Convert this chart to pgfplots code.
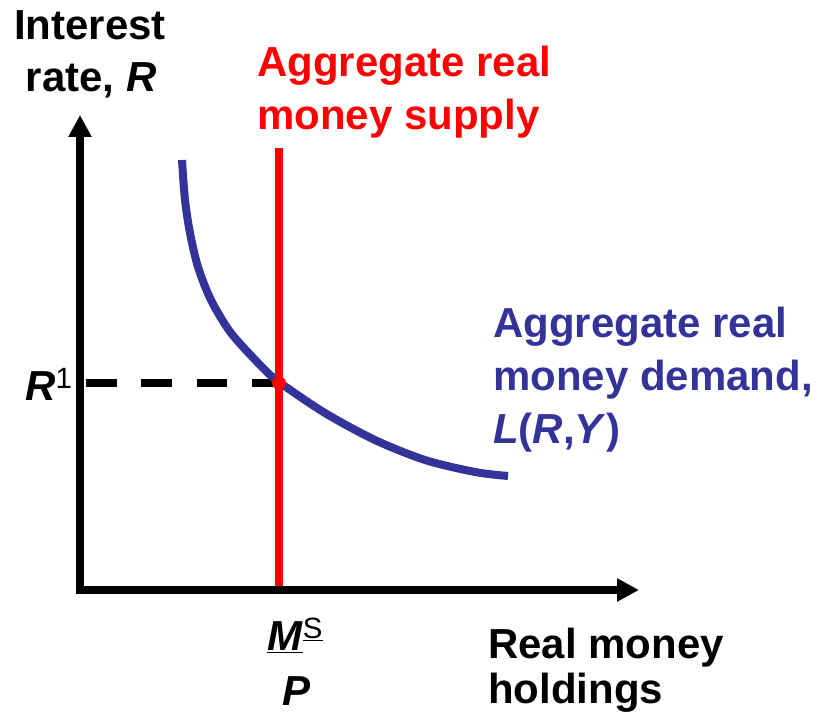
\documentclass[border=0pt]{standalone}
\usepackage{pgfplots}
\pgfplotsset{compat=1.18}
\usetikzlibrary{arrows.meta}
\usepackage{fontspec}
\setmainfont{Liberation Sans}
\definecolor{demandblue}{RGB}{51,51,153}
\tikzset{lbl/.style={inner sep=0pt, font=\bfseries\fontsize{31.6}{38}\selectfont}}
\begin{document}
\begin{tikzpicture}
  \begin{axis}[
      x=0.75bp, y=0.75bp,
      xmin=0, xmax=559,
      ymin=0, ymax=475,
      axis lines=left,
      axis on top,
      axis line style={line width=5.5bp, line cap=rect,
        -{Triangle[length=16.5bp, width=16.5bp]}},
      xtick=\empty, ytick=\empty,
      clip=false]
    % R1 level
    \addplot[black, line width=6bp, dash pattern=on 23bp off 18.5bp]
      coordinates {(6,207) (199,207)};
    % money demand L(R,Y)
    \addplot[demandblue, line width=6bp, smooth]
      coordinates {
        (102,430) (105,390) (110,357) (118,323) (131,290) (151,257)
        (182,223) (199,208) (245,177) (295,150) (345,130) (395,118)
        (428,114)
      };
    % money supply
    \addplot[red, line width=6.5bp] coordinates {(199,0) (199,442)};
    \addplot[red, only marks, mark=*, mark size=4.9bp] coordinates {(199,207)};

    \node[lbl, anchor=base] at (axis cs:10,550) {Interest};
    \node[lbl, anchor=base] at (axis cs:11,498) {rate, \textit{R}};
    \node[lbl, anchor=base west, red] at (axis cs:177,513) {Aggregate real};
    \node[lbl, anchor=base west, red] at (axis cs:177,460) {money supply};
    \node[lbl, anchor=base west, demandblue] at (axis cs:413,253) {Aggregate real};
    \node[lbl, anchor=base west, demandblue] at (axis cs:413,200) {money demand,};
    \node[lbl, anchor=base west, demandblue] at (axis cs:413,147)
      {\textit{L}(\textit{R},\textit{Y})};
    \node[lbl, anchor=base east] at (axis cs:-7,190)
      {\textit{R}\textsuperscript{\mdseries 1}};
    \node[lbl, anchor=base west] at (axis cs:187,-60)
      {\underline{\textit{M}}\textsuperscript{\mdseries\underline{S}}};
    \node[lbl, anchor=base] at (axis cs:217,-115) {\textit{P}};
    \node[lbl, anchor=base west] at (axis cs:408,-68) {Real money};
    \node[lbl, anchor=base west] at (axis cs:408,-113) {holdings};

    \coordinate (bl) at (axis cs:-80,-129);
    \coordinate (tr) at (axis cs:738,590);
  \end{axis}
  \pgfresetboundingbox
  \path[use as bounding box] (bl) rectangle (tr);
\end{tikzpicture}
\end{document}
